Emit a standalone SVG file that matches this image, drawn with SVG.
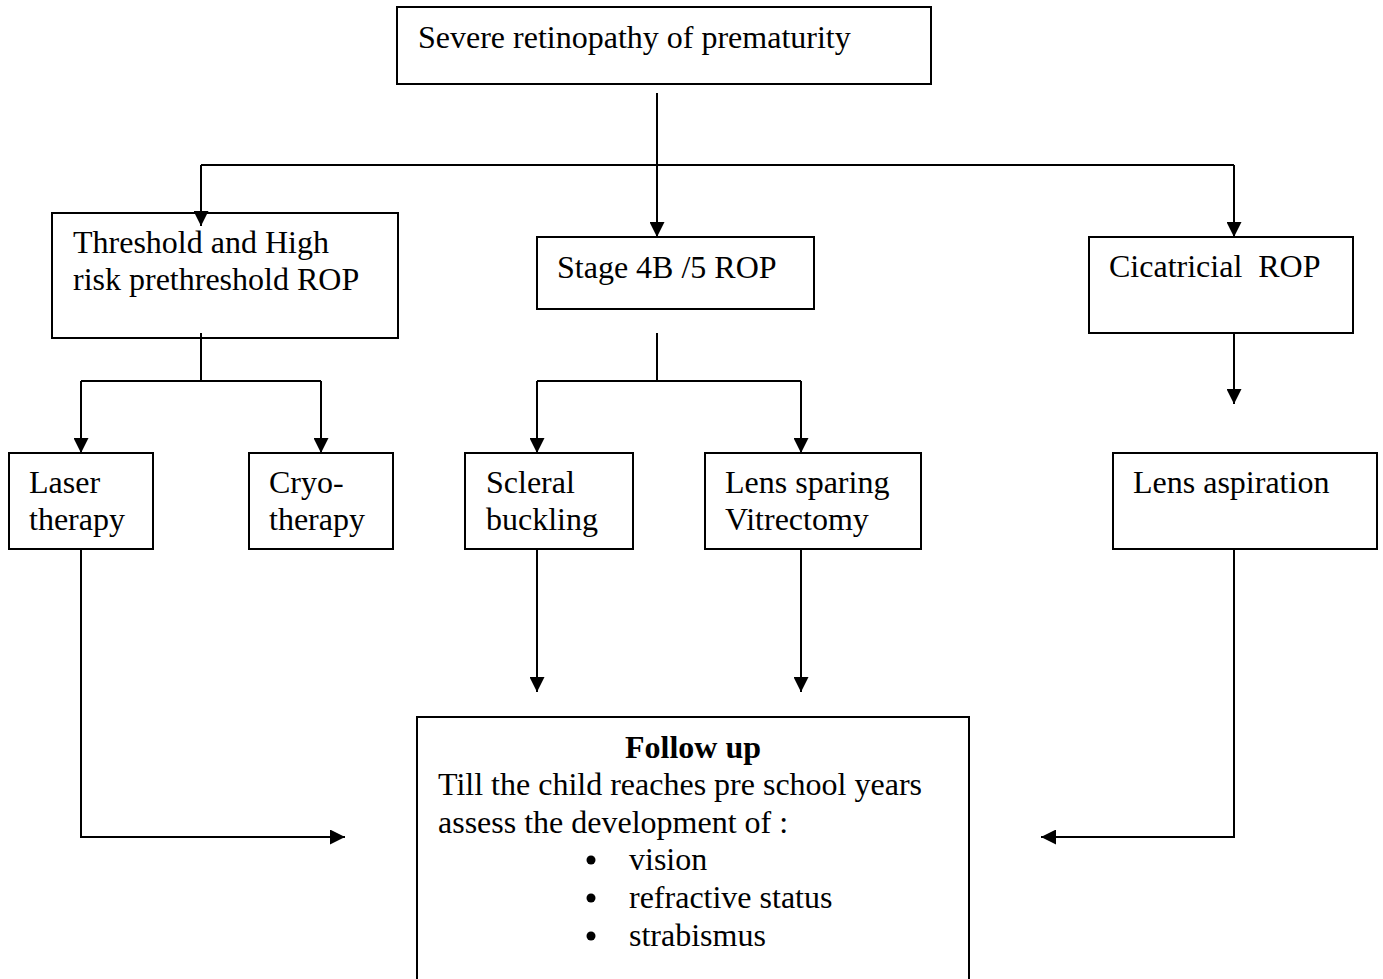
<svg xmlns="http://www.w3.org/2000/svg" width="1383" height="979" viewBox="0 0 1383 979">
<defs>
<style>
.box{fill:#fff;stroke:#000;stroke-width:2}
.t{font-family:"Liberation Serif","Times New Roman",serif;font-size:32px;fill:#000;white-space:pre}
.b{font-weight:bold}
.c{fill:none;stroke:#000;stroke-width:2}
</style>
<marker id="ah" markerWidth="15" markerHeight="15" refX="15" refY="7.5" orient="auto" markerUnits="userSpaceOnUse">
<path d="M0,0 L15,7.5 L0,15 Z" fill="#000"/>
</marker>
</defs>
<rect width="1383" height="979" fill="#fff"/>
<g id="n-severe">
<rect class="box" x="397" y="7" width="534" height="77"/>
<text class="t" x="418" y="48">Severe retinopathy of prematurity</text>
</g>
<g id="n-threshold">
<rect class="box" x="52" y="213" width="346" height="125"/>
<text class="t" x="73" y="253">Threshold and High</text>
<text class="t" x="73" y="290">risk prethreshold ROP</text>
</g>
<g id="n-stage">
<rect class="box" x="537" y="237" width="277" height="72"/>
<text class="t" x="557" y="278">Stage 4B /5 ROP</text>
</g>
<g id="n-cicatricial">
<rect class="box" x="1089" y="237" width="264" height="96"/>
<text class="t" x="1109" y="277" xml:space="preserve">Cicatricial  ROP</text>
</g>
<g id="n-laser">
<rect class="box" x="9" y="453" width="144" height="96"/>
<text class="t" x="29" y="493">Laser</text>
<text class="t" x="29" y="530">therapy</text>
</g>
<g id="n-cryo">
<rect class="box" x="249" y="453" width="144" height="96"/>
<text class="t" x="269" y="493">Cryo-</text>
<text class="t" x="269" y="530">therapy</text>
</g>
<g id="n-scleral">
<rect class="box" x="465" y="453" width="168" height="96"/>
<text class="t" x="486" y="493">Scleral</text>
<text class="t" x="486" y="530">buckling</text>
</g>
<g id="n-lenssparing">
<rect class="box" x="705" y="453" width="216" height="96"/>
<text class="t" x="725" y="493">Lens sparing</text>
<text class="t" x="725" y="530">Vitrectomy</text>
</g>
<g id="n-lensaspiration">
<rect class="box" x="1113" y="453" width="264" height="96"/>
<text class="t" x="1133" y="493">Lens aspiration</text>
</g>
<g id="n-followup">
<rect class="box" x="417" y="717" width="552" height="280"/>
<text class="t b" x="693" y="758" text-anchor="middle">Follow up</text>
<text class="t" x="438" y="795">Till the child reaches pre school years</text>
<text class="t" x="438" y="833">assess the development of :</text>
<circle cx="591" cy="860" r="4.5"/>
<text class="t" x="629" y="870">vision</text>
<circle cx="591" cy="898" r="4.5"/>
<text class="t" x="629" y="908">refractive status</text>
<circle cx="591" cy="936" r="4.5"/>
<text class="t" x="629" y="946">strabismus</text>
</g>
<g id="connectors">
<path class="c" d="M657,93 V237" marker-end="url(#ah)"/>
<path class="c" d="M201,165 H1234"/>
<path class="c" d="M201,165 V226" marker-end="url(#ah)"/>
<path class="c" d="M1234,165 V237" marker-end="url(#ah)"/>
<path class="c" d="M201,333 V381 M81,381 H321"/>
<path class="c" d="M81,381 V453" marker-end="url(#ah)"/>
<path class="c" d="M321,381 V453" marker-end="url(#ah)"/>
<path class="c" d="M657,333 V381 M537,381 H801"/>
<path class="c" d="M537,381 V453" marker-end="url(#ah)"/>
<path class="c" d="M801,381 V453" marker-end="url(#ah)"/>
<path class="c" d="M1234,333 V404" marker-end="url(#ah)"/>
<path class="c" d="M537,549 V692" marker-end="url(#ah)"/>
<path class="c" d="M801,549 V692" marker-end="url(#ah)"/>
<path class="c" d="M81,549 V837 H345" marker-end="url(#ah)"/>
<path class="c" d="M1234,549 V837 H1041" marker-end="url(#ah)"/>
</g>
</svg>
